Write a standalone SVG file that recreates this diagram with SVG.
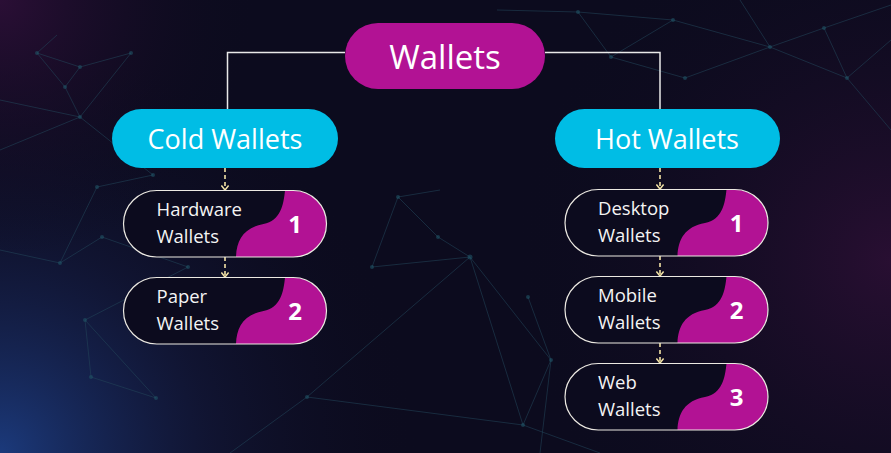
<svg xmlns="http://www.w3.org/2000/svg" width="891" height="453" viewBox="0 0 891 453">
<defs>
<radialGradient id="bgBL" cx="0" cy="453" r="420" gradientUnits="userSpaceOnUse">
<stop offset="0" stop-color="#1d3f86" stop-opacity="0.9"/>
<stop offset="0.5" stop-color="#17224f" stop-opacity="0.4"/>
<stop offset="1" stop-color="#0c0b1e" stop-opacity="0"/>
</radialGradient>
<radialGradient id="bgTL" cx="0" cy="0" r="260" gradientUnits="userSpaceOnUse">
<stop offset="0" stop-color="#2e0f38" stop-opacity="0.9"/>
<stop offset="1" stop-color="#0c0b1e" stop-opacity="0"/>
</radialGradient>
<radialGradient id="bgR" cx="891" cy="260" r="380" gradientUnits="userSpaceOnUse">
<stop offset="0" stop-color="#2a0f33" stop-opacity="0.95"/>
<stop offset="1" stop-color="#0c0b1e" stop-opacity="0"/>
</radialGradient>
<clipPath id="cardClip"><rect x="0" y="0" width="203" height="66.5" rx="33.25"/></clipPath>
<marker id="chev" viewBox="0 0 10 10" refX="8" refY="5" markerWidth="9" markerHeight="9" markerUnits="userSpaceOnUse" orient="auto">
<path d="M3,1 L8,5 L3,9" fill="none" stroke="#f3e3a6" stroke-width="1.6"/>
</marker>
</defs>
<style>
.net line{stroke:#23465a;stroke-width:1;opacity:0.55}
.net circle{fill:#1f5466;opacity:0.6}
.pill-m{fill:#b21294}
.pill-c{fill:#00bde5}
.title{font-family:"Open Sans","Liberation Sans",sans-serif;fill:#ffffff;text-anchor:middle}
.card{fill:#0c0b1e}
.cardStroke{fill:none;stroke:#ece9e2;stroke-width:1.2}
.blob{fill:#b21294}
.lbl{font-family:"Open Sans","Liberation Sans",sans-serif;font-size:18.5px;fill:#f4f4f4}
.num{font-family:"Open Sans","Liberation Sans",sans-serif;font-size:24px;font-weight:bold;fill:#ffffff;text-anchor:middle}
.conn{fill:none;stroke:#e9e9e9;stroke-width:1.5}
.dash{fill:none;stroke:#f3e3a6;stroke-width:1.6;stroke-dasharray:4 3}
</style>
<rect width="891" height="453" fill="#0c0b1e"/>
<rect width="891" height="453" fill="url(#bgBL)"/>
<rect width="891" height="453" fill="url(#bgTL)"/>
<rect width="891" height="453" fill="url(#bgR)"/>
<g class="net">
<line x1="497" y1="10" x2="578" y2="12"/><line x1="578" y1="12" x2="673" y2="20"/><line x1="673" y1="20" x2="770" y2="47"/>
<line x1="673" y1="20" x2="611" y2="57"/><line x1="611" y1="57" x2="685" y2="78"/><line x1="685" y1="78" x2="770" y2="47"/>
<line x1="770" y1="47" x2="847" y2="78"/><line x1="847" y1="78" x2="891" y2="40"/><line x1="824" y1="28" x2="847" y2="78"/>
<line x1="770" y1="47" x2="824" y2="28"/><line x1="824" y1="28" x2="891" y2="5"/><line x1="847" y1="78" x2="891" y2="130"/>
<line x1="578" y1="12" x2="611" y2="57"/><line x1="740" y1="0" x2="770" y2="47"/>
<line x1="37" y1="53" x2="80" y2="67"/><line x1="80" y1="67" x2="65" y2="87"/><line x1="65" y1="87" x2="37" y2="53"/>
<line x1="80" y1="67" x2="131" y2="53"/><line x1="80" y1="117" x2="65" y2="87"/><line x1="80" y1="117" x2="153" y2="175"/>
<line x1="80" y1="117" x2="0" y2="150"/><line x1="97" y1="187" x2="153" y2="175"/><line x1="97" y1="187" x2="60" y2="263"/>
<line x1="102" y1="237" x2="60" y2="263"/><line x1="102" y1="237" x2="188" y2="267"/><line x1="60" y1="263" x2="0" y2="250"/>
<line x1="85" y1="320" x2="188" y2="267"/><line x1="85" y1="320" x2="91" y2="377"/><line x1="91" y1="377" x2="156" y2="398"/>
<line x1="156" y1="398" x2="85" y2="320"/><line x1="0" y1="100" x2="80" y2="117"/><line x1="57" y1="35" x2="37" y2="53"/>
<line x1="131" y1="53" x2="80" y2="117"/>
<line x1="398" y1="197" x2="438" y2="237"/><line x1="438" y1="237" x2="470" y2="257"/><line x1="398" y1="197" x2="372" y2="267"/>
<line x1="372" y1="267" x2="470" y2="257"/><line x1="470" y1="257" x2="307" y2="397"/><line x1="470" y1="257" x2="523" y2="425"/>
<line x1="470" y1="257" x2="551" y2="360"/><line x1="307" y1="397" x2="523" y2="425"/><line x1="523" y1="425" x2="551" y2="360"/>
<line x1="551" y1="360" x2="528" y2="297"/><line x1="307" y1="397" x2="230" y2="453"/><line x1="523" y1="425" x2="600" y2="453"/>
<line x1="398" y1="197" x2="440" y2="190"/><line x1="551" y1="360" x2="540" y2="453"/>
<circle cx="578" cy="12" r="2"/><circle cx="673" cy="20" r="2"/><circle cx="770" cy="47" r="2"/><circle cx="611" cy="57" r="2"/>
<circle cx="685" cy="78" r="2"/><circle cx="847" cy="78" r="2"/><circle cx="824" cy="28" r="2"/>
<circle cx="37" cy="53" r="2"/><circle cx="80" cy="67" r="2"/><circle cx="65" cy="87" r="2"/><circle cx="131" cy="53" r="2"/>
<circle cx="80" cy="117" r="2"/><circle cx="153" cy="175" r="2"/><circle cx="97" cy="187" r="2"/><circle cx="60" cy="263" r="2"/>
<circle cx="102" cy="237" r="2"/><circle cx="188" cy="267" r="2"/><circle cx="85" cy="320" r="2"/><circle cx="91" cy="377" r="2"/>
<circle cx="156" cy="398" r="2"/><circle cx="398" cy="197" r="2"/><circle cx="438" cy="237" r="2"/><circle cx="470" cy="257" r="2.5"/>
<circle cx="372" cy="267" r="2"/><circle cx="307" cy="397" r="2"/><circle cx="523" cy="425" r="2"/><circle cx="551" cy="360" r="2"/>
<circle cx="528" cy="297" r="2"/>
</g>
<g id="connectors">
<path class="conn" d="M345,52.5 H227.5 V109"/>
<path class="conn" d="M545,52.5 H660 V109"/>
<path class="dash" d="M225,168 V190" marker-end="url(#chev)"/>
<path class="dash" d="M225,257 V277" marker-end="url(#chev)"/>
<path class="dash" d="M660,168 V189" marker-end="url(#chev)"/>
<path class="dash" d="M660,256 V276" marker-end="url(#chev)"/>
<path class="dash" d="M660,343 V363" marker-end="url(#chev)"/>
</g>
<g id="wallets">
<rect class="pill-m" x="345" y="23" width="200" height="66" rx="33"/>
<text class="title" x="445" y="69" font-size="33">Wallets</text>
</g>
<g id="cold-wallets">
<rect class="pill-c" x="112" y="109" width="226" height="59" rx="29.5"/>
<text class="title" x="225" y="149" font-size="27">Cold Wallets</text>
</g>
<g id="hot-wallets">
<rect class="pill-c" x="555" y="109" width="225" height="59" rx="29.5"/>
<text class="title" x="667" y="149" font-size="27">Hot Wallets</text>
</g>
<g id="hardware-wallets" transform="translate(123.5,190.5)">
<rect class="card" width="203" height="66.5" rx="33.25"/>
<path class="blob" clip-path="url(#cardClip)" d="M161.5,0 C160,15 157,30 140,33.5 C120,37 113,50 112.5,66.5 L210,66.5 L210,0 Z"/>
<rect class="cardStroke" width="203" height="66.5" rx="33.25"/>
<text class="lbl" x="33" y="25.5">Hardware</text>
<text class="lbl" x="33" y="52.5">Wallets</text>
<text class="num" x="171.5" y="42.5">1</text>
</g>
<g id="paper-wallets" transform="translate(123.5,277.5)">
<rect class="card" width="203" height="66.5" rx="33.25"/>
<path class="blob" clip-path="url(#cardClip)" d="M161.5,0 C160,15 157,30 140,33.5 C120,37 113,50 112.5,66.5 L210,66.5 L210,0 Z"/>
<rect class="cardStroke" width="203" height="66.5" rx="33.25"/>
<text class="lbl" x="33" y="25.5">Paper</text>
<text class="lbl" x="33" y="52.5">Wallets</text>
<text class="num" x="171.5" y="42.5">2</text>
</g>
<g id="desktop-wallets" transform="translate(565,189.5)">
<rect class="card" width="203" height="66.5" rx="33.25"/>
<path class="blob" clip-path="url(#cardClip)" d="M161.5,0 C160,15 157,30 140,33.5 C120,37 113,50 112.5,66.5 L210,66.5 L210,0 Z"/>
<rect class="cardStroke" width="203" height="66.5" rx="33.25"/>
<text class="lbl" x="33" y="25.5">Desktop</text>
<text class="lbl" x="33" y="52.5">Wallets</text>
<text class="num" x="171.5" y="42.5">1</text>
</g>
<g id="mobile-wallets" transform="translate(565,276.5)">
<rect class="card" width="203" height="66.5" rx="33.25"/>
<path class="blob" clip-path="url(#cardClip)" d="M161.5,0 C160,15 157,30 140,33.5 C120,37 113,50 112.5,66.5 L210,66.5 L210,0 Z"/>
<rect class="cardStroke" width="203" height="66.5" rx="33.25"/>
<text class="lbl" x="33" y="25.5">Mobile</text>
<text class="lbl" x="33" y="52.5">Wallets</text>
<text class="num" x="171.5" y="42.5">2</text>
</g>
<g id="web-wallets" transform="translate(565,363.5)">
<rect class="card" width="203" height="66.5" rx="33.25"/>
<path class="blob" clip-path="url(#cardClip)" d="M161.5,0 C160,15 157,30 140,33.5 C120,37 113,50 112.5,66.5 L210,66.5 L210,0 Z"/>
<rect class="cardStroke" width="203" height="66.5" rx="33.25"/>
<text class="lbl" x="33" y="25.5">Web</text>
<text class="lbl" x="33" y="52.5">Wallets</text>
<text class="num" x="171.5" y="42.5">3</text>
</g>
</svg>
